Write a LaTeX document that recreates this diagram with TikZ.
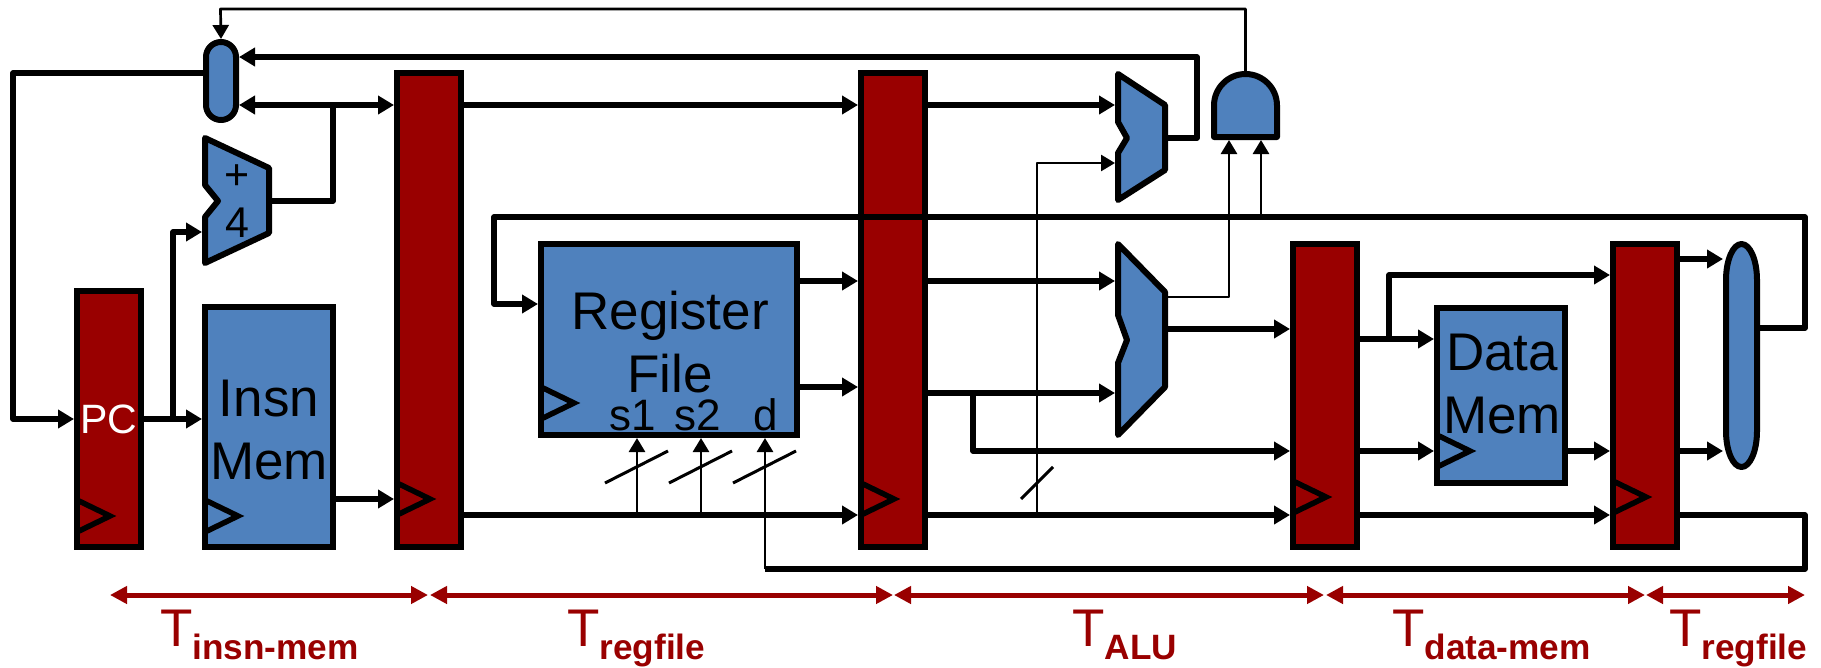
\documentclass[tikz,border=0pt]{standalone}
\usepackage{fontspec}
\setmainfont{Liberation Sans}
\usepackage{xcolor}
\usetikzlibrary{arrows.meta,positioning}
\definecolor{latchred}{HTML}{990000}
\definecolor{partblue}{HTML}{4F81BD}
\newcommand{\tsub}[1]{T\raisebox{-13pt}{\fontsize{35.2}{35.2}\selectfont\bfseries #1}}

\begin{document}
\begin{tikzpicture}[x=1pt,y=-1pt,>={Triangle[length=16pt,width=18pt]},
  latch/.style={draw,line width=6pt,fill=latchred,inner sep=0pt},
  mem/.style={draw,line width=6pt,fill=partblue,inner sep=0pt},
  memtext/.style={inner sep=0pt,align=center,font=\fontsize{53}{63.5}\selectfont},
  pintext/.style={inner sep=0pt,anchor=base,font=\fontsize{44}{44}\selectfont},
  part/.style={draw,line width=6pt,fill=partblue,line join=round},
  hit/.style={inner sep=0pt,outer sep=0pt,align=center},
  bus/.style={line width=5.5pt,line join=round},
  wire/.style={line width=2.7pt,line join=round,>={Triangle[length=14pt,width=16pt]}},
  clock/.style={line width=5.5pt},
  tick/.style={line width=3pt},
  span/.style={line width=5pt,latchred,<->,>={Triangle[length=17pt,width=17pt]}},
  tlabel/.style={inner sep=0pt,anchor=base west,latchred,font=\fontsize{53}{53}\selectfont}]
  \useasboundingbox (0,0) rectangle (1821,667);
  % pipeline latches
  \node[latch,minimum width=64,minimum height=256,text=white,font=\fontsize{41}{41}\selectfont] (pc) at (109,419) {PC};
  \node[latch,minimum width=64,minimum height=474] (ifid) at (429,310) {};
  \node[latch,minimum width=64,minimum height=474] (idex) at (893,310) {};
  \node[latch,minimum width=64,minimum height=303] (exmem) at (1325,395.5) {};
  \node[latch,minimum width=64,minimum height=303] (memwb) at (1645,395.5) {};
  % memories
  \node[mem,minimum width=128,minimum height=240] (imem) at (269,427) {};
  \node[memtext] (imemtext) at (269,430) {Insn\\Mem};
  \node[mem,minimum width=256,minimum height=191] (regf) at (669,339.5) {};
  \node[memtext] (regftext) at (670,342) {Register\\File};
  \node[mem,minimum width=128,minimum height=175] (dmem) at (1501,395.5) {};
  \node[memtext] (dmemtext) at (1502,384) {Data\\Mem};
  \node[pintext] (s1) at (633,430) {s1};
  \node[pintext] (s2) at (698,430) {s2};
  \node[pintext] (d) at (766,430) {d};
  % muxes and the rest
  \node[part,rounded corners=15,minimum width=30,minimum height=78,inner sep=0pt] (pcmux) at (221,81) {};
  \draw[part] (205,138) -- (269,168) -- (269,233) -- (205,263) -- (205,217) -- (218,201) -- (205,185) -- cycle;
  \node[hit,minimum width=70,minimum height=131,font=\fontsize{43}{48}\selectfont] (adder) at (237,201.5) {+\\4};
  \draw[part] (1118,74) -- (1165,105) -- (1165,170) -- (1118,200) -- (1118,153) -- (1127,138) -- (1118,122) -- cycle;
  \node[hit,minimum width=53,minimum height=132] (bmux) at (1141.5,137) {};
  \draw[part] (1118,244) -- (1165,292) -- (1165,387) -- (1118,435) -- (1118,363) -- (1127,340) -- (1118,315) -- cycle;
  \node[hit,minimum width=53,minimum height=197] (alu) at (1141.5,339.5) {};
  \draw[part] (1214,137) -- (1214,105.5) arc[radius=31.5,start angle=180,end angle=360] -- (1277,137) -- cycle;
  \node[hit,minimum width=69,minimum height=69] (andg) at (1245.5,105.5) {};
  \draw[part] (1726,280) arc[x radius=15.5,y radius=36,start angle=180,end angle=360] -- (1757,431) arc[x radius=15.5,y radius=36,start angle=0,end angle=180] -- cycle;
  \node[hit,minimum width=37,minimum height=229] (wbmux) at (1741.5,355.5) {};
  % clock marks
  \foreach \cx/\cy in {77/516,205/516,397/499,541/403,861/499,1293/497,1437/451,1613/497}
    \draw[clock] (\cx,\cy-16) -- ++(33,16) -- ++(-33,16);
  % fetch
  \draw[wire,->] (andg.north) |- (220.5,9) -- (pcmux.north);
  \draw[bus,->] (bmux.east |- 0,138) -| (1197,57) -- (pcmux.east |- 0,57);
  \draw[bus,->] (pcmux.west |- 0,73) -| (13,419) -- (pc.west |- 0,419);
  \draw[bus,<->] (pcmux.east |- 0,105) -- (ifid.west |- 0,105);
  \draw[bus] (adder.east |- 0,201) -| (333,105);
  \draw[bus,->] (pc.east |- 0,419) -- (imem.west |- 0,419);
  \draw[bus,->] (173,419) |- (adder.west |- 0,232);
  \draw[bus,->] (imem.east |- 0,499) -- (ifid.west |- 0,499);
  % decode
  \draw[bus,->] (ifid.east |- 0,105) -- (idex.west |- 0,105);
  \draw[bus,->] (ifid.east |- 0,515) -- (idex.west |- 0,515);
  \draw[wire,->] (637,515) -- (637,0 |- regf.south);
  \draw[wire,->] (701,515) -- (701,0 |- regf.south);
  \draw[bus,->] (regf.east |- 0,281) -- (idex.west |- 0,281);
  \draw[bus,->] (regf.east |- 0,387) -- (idex.west |- 0,387);
  % execute
  \draw[bus,->] (idex.east |- 0,105) -- (bmux.west |- 0,105);
  \draw[bus,->] (idex.east |- 0,281) -- (alu.west |- 0,281);
  \draw[bus,->] (idex.east |- 0,393) -- (alu.west |- 0,393);
  \draw[bus,->] (973,393) |- (exmem.west |- 0,451);
  \draw[bus,->] (idex.east |- 0,515) -- (exmem.west |- 0,515);
  \draw[wire,->] (1037,515) |- (bmux.west |- 0,163);
  \draw[bus,->] (alu.east |- 0,329) -- (exmem.west |- 0,329);
  \draw[wire,->] (alu.east |- 0,297) -| (1229,0 |- andg.south);
  % memory and write back
  \draw[bus,->] (exmem.east |- 0,339) -- (dmem.west |- 0,339);
  \draw[bus,->] (1389,339) |- (memwb.west |- 0,275);
  \draw[bus,->] (exmem.east |- 0,451) -- (dmem.west |- 0,451);
  \draw[bus,->] (dmem.east |- 0,451) -- (memwb.west |- 0,451);
  \draw[bus,->] (exmem.east |- 0,515) -- (memwb.west |- 0,515);
  \draw[bus,->] (memwb.east |- 0,259) -- (wbmux.west |- 0,259);
  \draw[bus,->] (memwb.east |- 0,451) -- (wbmux.west |- 0,451);
  \draw[bus,->] (wbmux.east |- 0,328) -| (1805,217) -| (494,304) -- (regf.west |- 0,304);
  \draw[wire,->] (1261,217) -- (1261,0 |- andg.south);
  \draw[bus] (memwb.east |- 0,515) -| (1805,569) -- (765,569);
  \draw[wire,->] (765,569) -- (765,0 |- regf.south);
  % width marks
  \foreach \tx in {0,64,128}
    \draw[tick] (605+\tx,483) -- (668+\tx,451);
  \draw[tick] (1021,499) -- (1053,467);
  % stage times
  \coordinate (t0) at (110,595);
  \coordinate (t1) at (428,595);
  \coordinate (t1b) at (430,595);
  \coordinate (t2) at (893,595);
  \coordinate (t2b) at (894,595);
  \coordinate (t3) at (1324,595);
  \coordinate (t3b) at (1326,595);
  \coordinate (t4) at (1645,595);
  \coordinate (t4b) at (1646,595);
  \coordinate (t5) at (1805,595);
  \draw[span] (t0) -- (t1);
  \draw[span] (t1b) -- (t2);
  \draw[span] (t2b) -- (t3);
  \draw[span] (t3b) -- (t4);
  \draw[span] (t4b) -- (t5);
  \node[tlabel] (timem) at (160,646) {\tsub{insn-mem}};
  \node[tlabel] (tregf) at (567,646) {\tsub{regfile}};
  \node[tlabel] (talu) at (1072,646) {\tsub{ALU}};
  \node[tlabel] (tdmem) at (1392,646) {\tsub{data-mem}};
  \node[tlabel] (twb) at (1669,646) {\tsub{regfile}};
\end{tikzpicture}
\end{document}
